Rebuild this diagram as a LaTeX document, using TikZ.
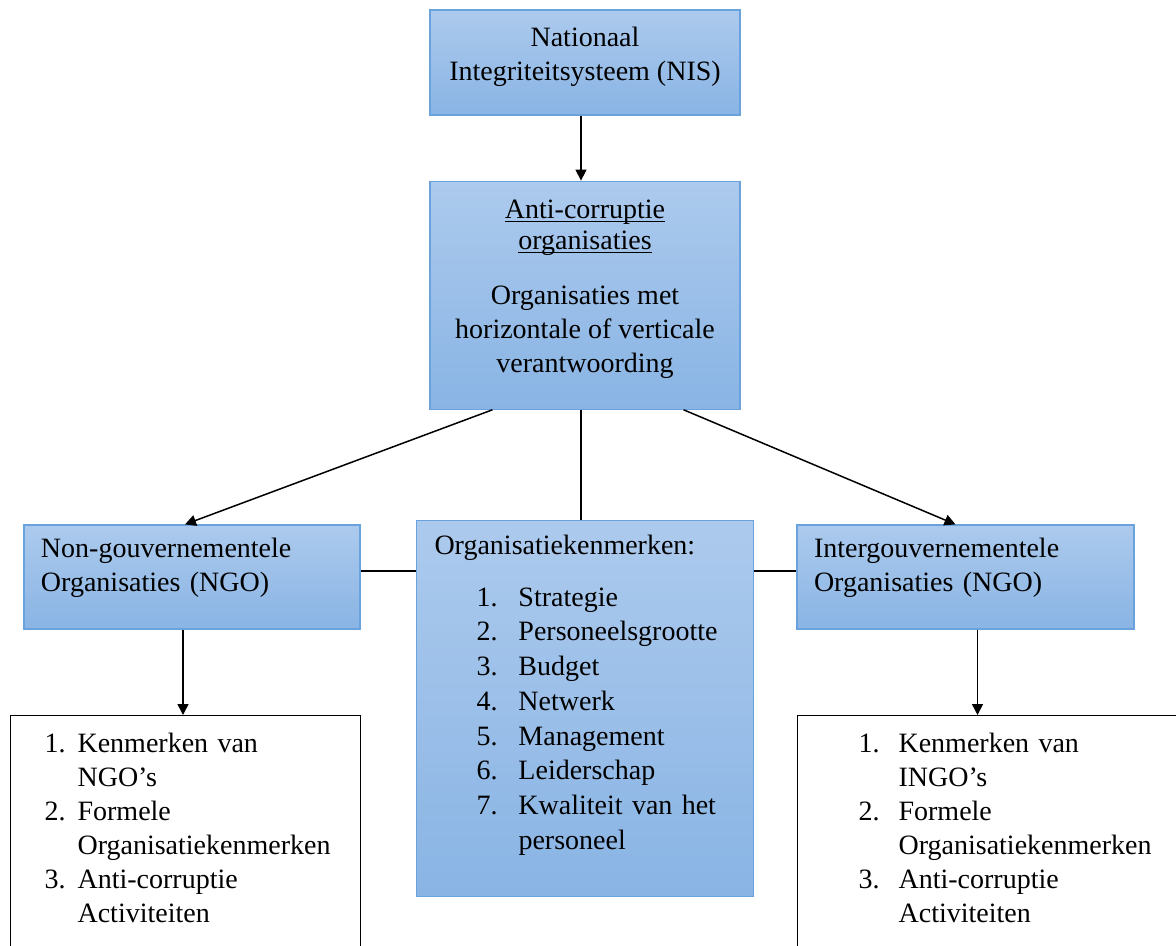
\documentclass[tikz,border=0pt]{standalone}
\usepackage{fontspec}
\setmainfont{Liberation Serif}
\usetikzlibrary{shapes.geometric, arrows.meta, positioning}
\definecolor{boxline}{RGB}{105,162,220}
\definecolor{boxtop}{RGB}{172,202,237}
\definecolor{boxbottom}{RGB}{137,180,228}
\newcommand{\boxfont}{\fontsize{14pt}{17pt}\selectfont}
\newcommand{\headline}[1]{\underline{\smash{#1}}}
\tikzstyle{bluebox} = [rectangle, draw=boxline, line width=0.6pt, top color=boxtop, bottom color=boxbottom, font=\boxfont, inner sep=0pt]
\tikzstyle{listbox} = [rectangle, draw=black, line width=0.6pt, fill=white, font=\boxfont, inner xsep=0pt, inner ysep=6.3pt]
\tikzstyle{arrow} = [line width=0.75pt, -{Triangle[length=5.5pt,width=5.5pt]}]
\tikzstyle{link} = [line width=0.75pt]
\begin{document}
\begin{tikzpicture}[x=0.5pt, y=-0.5pt]
		\useasboundingbox (0,0) rectangle (1176,946);
		\clip (0,0) rectangle (1176,946);
		\node (nis) [bluebox, minimum width=155pt, minimum height=52.5pt] at (585,62.5) {\begin{tabular}{@{}c@{}}Nationaal\\Integriteitsysteem (NIS)\\[6pt]\end{tabular}};
		\node (anti) [bluebox, minimum width=155pt, minimum height=114pt, below=32.5pt of nis] {\begin{tabular}{@{}c@{}}\headline{Anti-corruptie}\\[-1.5pt]\headline{organisaties}\\[10.5pt]Organisaties met\\horizontale of verticale\\verantwoording\\[6.5pt]\end{tabular}};
		\node (kenm) [bluebox, minimum width=168.5pt, text width=168.5pt, minimum height=188pt, below=55pt of anti] {\renewcommand{\arraystretch}{1.02}\begin{tabular}{@{\hspace{9pt}}p{21pt}@{}p{21pt}@{}l@{}}
			\multicolumn{3}{@{\hspace{9pt}}l@{}}{Organisatiekenmerken:}\\[8.5pt]
			& 1. & Strategie\\
			& 2. & Personeelsgrootte\\
			& 3. & Budget\\
			& 4. & Netwerk\\
			& 5. & Management\\
			& 6. & Leiderschap\\
			& 7. & Kwaliteit van het\\
			& & personeel\\[13.5pt]
		\end{tabular}};
		\node (ngo) [bluebox, minimum width=168pt, text width=168pt, minimum height=52pt] at (192,577) {\begin{tabular}{@{\hspace{8.5pt}}l@{}}Non-gouvernementele\\Organisaties (NGO)\\[9pt]\end{tabular}};
		\node (ingo) [bluebox, minimum width=168.5pt, text width=168.5pt, minimum height=52pt] at (965.5,577) {\begin{tabular}{@{\hspace{8.5pt}}l@{}}Intergouvernementele\\Organisaties (NGO)\\[9pt]\end{tabular}};
		\node (ngolist) [listbox, text width=175pt, anchor=north west] at (10,715) {\begin{tabular}{@{\hspace{17pt}}p{16.5pt}@{}l@{}}
			1. & Kenmerken van\\
			& NGO’s\\
			2. & Formele\\
			& Organisatiekenmerken\\
			3. & Anti-corruptie\\
			& Activiteiten\\[20pt]
		\end{tabular}};
		\node (ingolist) [listbox, text width=201.5pt, anchor=north west] at (797,715) {\begin{tabular}{@{\hspace{30.5pt}}p{20pt}@{}l@{}}
			1. & Kenmerken van\\
			& INGO’s\\
			2. & Formele\\
			& Organisatiekenmerken\\
			3. & Anti-corruptie\\
			& Activiteiten\\[20pt]
		\end{tabular}};
		\draw [arrow] ([xshift=-2pt]nis.south) -- ([xshift=-2pt]anti.north);
		\draw [arrow] ([xshift=31.5pt]anti.south west) -- ([xshift=-3.5pt]ngo.north);
		\draw [arrow] ([xshift=-28.5pt]anti.south east) -- ([xshift=-5pt]ingo.north);
		\draw [link] ([xshift=-2pt]anti.south) -- ([xshift=-2pt]anti.south |- kenm.north);
		\draw [link] ([yshift=3pt]ngo.east) -- ([yshift=3pt]ngo.east -| kenm.west);
		\draw [link] ([yshift=3pt]ingo.west) -- ([yshift=3pt]ingo.west -| kenm.east);
		\draw [arrow] ([xshift=-4.5pt]ngo.south) -- ([xshift=-4.5pt]ngo.south |- ngolist.north);
		\draw [arrow] ([xshift=6pt]ingo.south) -- ([xshift=6pt]ingo.south |- ingolist.north);
	\end{tikzpicture}
\end{document}
